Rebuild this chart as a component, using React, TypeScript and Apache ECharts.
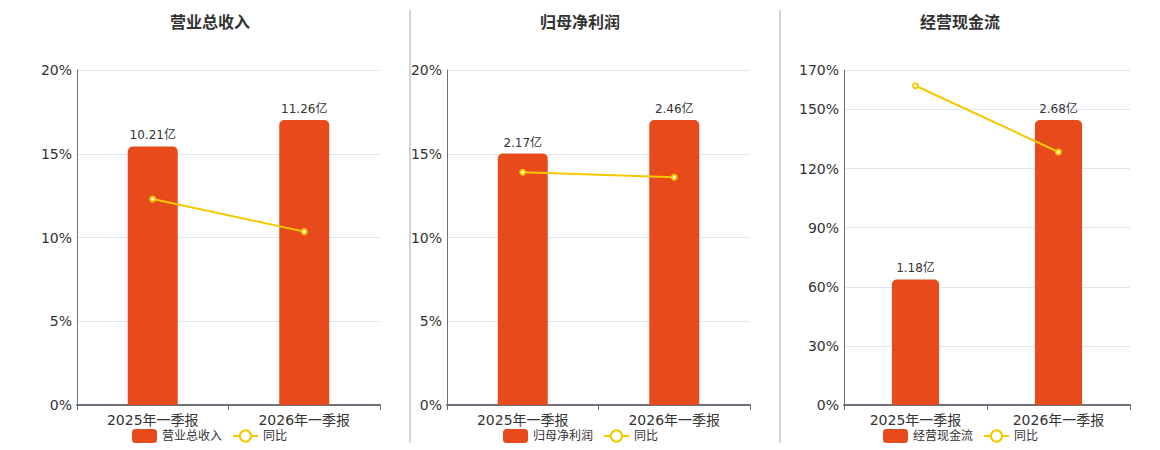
import React, { useEffect, useRef } from "react";
import * as echarts from "echarts";

const categories = ["2025年一季报", "2026年一季报"];
const titles = ["营业总收入", "归母净利润", "经营现金流"];
const revenue = [10.21, 11.26];
const revenueYoY = [12.3, 10.35];
const netProfit = [2.17, 2.46];
const netProfitYoY = [13.9, 13.6];
const cashFlow = [1.18, 2.68];
const cashFlowYoY = [162, 128.4];
const pctMax = [20, 20, 170];
const pctInterval = [5, 5, 30];

const FONT = "DejaVu Sans, Noto Sans CJK SC, sans-serif";
const BAR = "#e84b1b";
const LINE = "#f5c800";

export default function App() {
  const ref = useRef<HTMLDivElement>(null);
  useEffect(() => {
    if (!ref.current) return;
    const chart = echarts.init(ref.current, undefined, { renderer: "svg" });
    const grids = [
      { left: 77, top: 70, width: 303, height: 335 },
      { left: 447, top: 70, width: 303, height: 335 },
      { left: 844, top: 70, width: 286, height: 335 },
    ];
    const barsAll = [revenue, netProfit, cashFlow];
    const yoyAll = [revenueYoY, netProfitYoY, cashFlowYoY];
    const titleX = [210, 580, 960];
    const legendX = [132, 503, 883];

    const xAxis: any[] = [];
    const yAxis: any[] = [];
    const series: any[] = [];
    const legend: any[] = [];
    const graphic: any[] = [];

    grids.forEach((g, i) => {
      xAxis.push({
        type: "category",
        gridIndex: i,
        data: categories,
        axisLine: { lineStyle: { color: "#6e7079", width: 2 } },
        axisTick: { show: true, lineStyle: { color: "#6e7079" } },
        axisLabel: { fontSize: 14, color: "#333", fontFamily: FONT, margin: 8 },
      });
      yAxis.push({
        type: "value",
        gridIndex: i,
        min: 0,
        max: pctMax[i],
        interval: pctInterval[i],
        axisLine: { show: true, lineStyle: { color: "#6e7079" } },
        axisTick: { show: false },
        splitLine: { lineStyle: { color: "#e0e6f1" } },
        axisLabel: {
          formatter: "{value}%",
          fontSize: 14,
          color: "#333",
          fontFamily: FONT,
          margin: 5,
        },
      });
      yAxis.push({
        type: "value",
        gridIndex: i,
        show: false,
        min: 0,
        max: (v: any) => v.max / 0.851,
        splitLine: { show: false },
      });
      series.push({
        name: titles[i],
        type: "bar",
        xAxisIndex: i,
        yAxisIndex: i * 2 + 1,
        data: barsAll[i],
        barWidth: "33%",
        itemStyle: { color: BAR, borderRadius: [5, 5, 0, 0] },
        label: {
          show: true,
          position: "top",
          formatter: (p: any) => p.value + "亿",
          fontSize: 12,
          color: "#333",
          fontFamily: FONT,
          distance: 5,
        },
      });
      series.push({
        name: "同比",
        type: "line",
        xAxisIndex: i,
        yAxisIndex: i * 2,
        data: yoyAll[i],
        symbol: "emptyCircle",
        symbolSize: 5,
        color: LINE,
        lineStyle: { color: LINE, width: 2 },
        itemStyle: { color: LINE, borderWidth: 2 },
      });
      legend.push({
        left: legendX[i],
        top: 429,
        padding: 0,
        itemWidth: 25,
        itemHeight: 14,
        itemGap: 10,
        data: [titles[i], "同比"],
        textStyle: { fontSize: 12, color: "#333", fontFamily: FONT },
      });
      graphic.push({
        type: "text",
        x: titleX[i],
        y: 22,
        style: {
          text: titles[i],
          fontSize: 16,
          fontWeight: "bold",
          fontFamily: FONT,
          fill: "#333",
          align: "center",
          verticalAlign: "middle",
        },
      });
    });
    [410, 780].forEach((x) => {
      graphic.push({
        type: "line",
        shape: { x1: x, y1: 10, x2: x, y2: 443 },
        style: { stroke: "#aaaaaa", lineWidth: 1 },
      });
    });

    chart.setOption({
      animation: false,
      grid: grids,
      xAxis,
      yAxis,
      series,
      legend,
      graphic,
    });
    return () => chart.dispose();
  }, []);
  return (
    <div
      ref={ref}
      style={{ position: "absolute", left: 0, top: 0, width: 1160, height: 450 }}
    />
  );
}
